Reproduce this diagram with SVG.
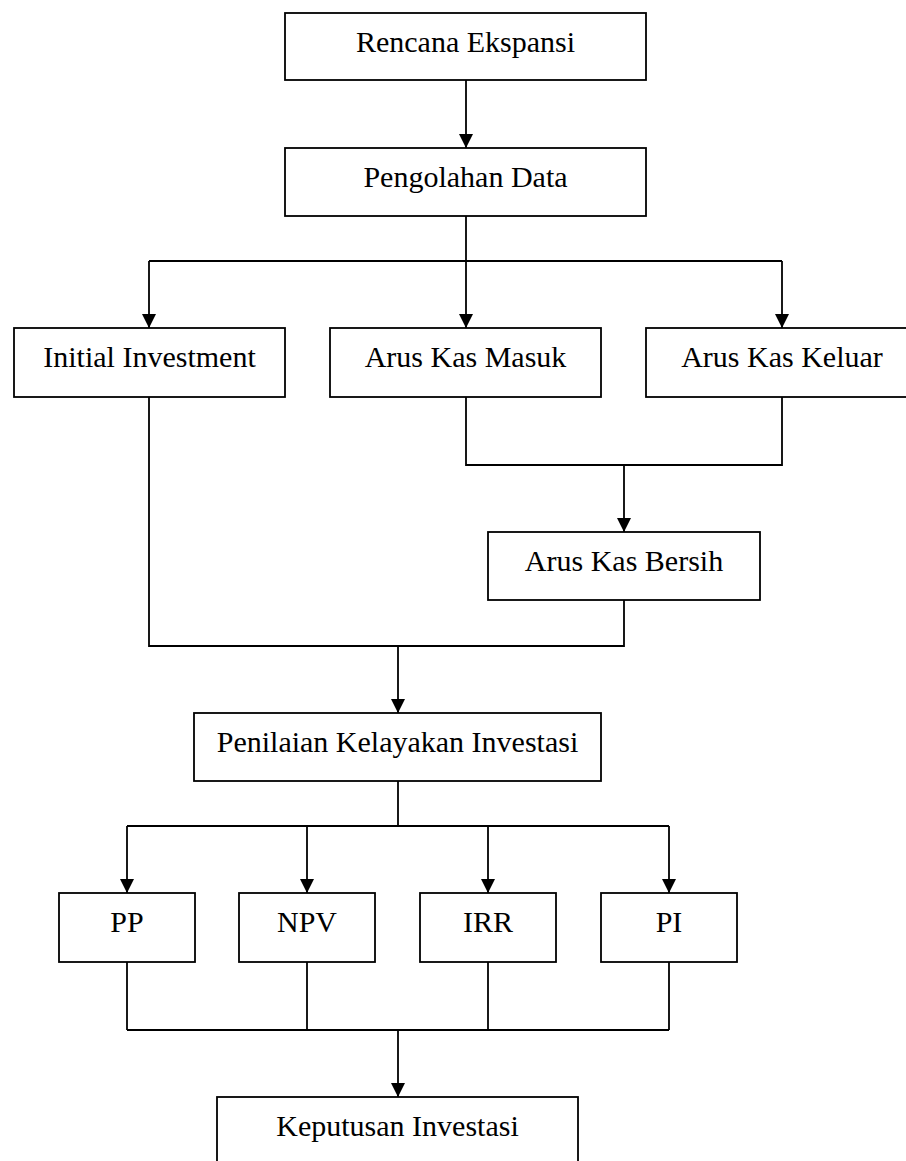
<svg xmlns="http://www.w3.org/2000/svg" width="906" height="1161" viewBox="0 0 906 1161">
<style>
.box{fill:#fff;stroke:#000;stroke-width:1.8}
.lbl{font-family:"Liberation Serif","Times New Roman",serif;font-size:30px;fill:#000;text-anchor:middle}
.con{fill:none;stroke:#000;stroke-width:1.8}
.arr{marker-end:url(#ah)}
</style>
<defs>
<marker id="ah" markerUnits="userSpaceOnUse" markerWidth="14" markerHeight="14" refX="14" refY="7" orient="auto">
<path d="M0,0 L14,7 L0,14 z" fill="#000"/>
</marker>
</defs>
<rect width="906" height="1161" fill="#fff"/>
<g id="connectors">
<line class="con arr" x1="466" y1="80" x2="466" y2="148"/>
<line class="con" x1="466" y1="216" x2="466" y2="261"/>
<line class="con" x1="149" y1="261" x2="782" y2="261"/>
<line class="con arr" x1="149" y1="261" x2="149" y2="328"/>
<line class="con arr" x1="466" y1="261" x2="466" y2="328"/>
<line class="con arr" x1="782" y1="261" x2="782" y2="328"/>
<polyline class="con" points="466,397 466,465 782,465 782,397"/>
<line class="con arr" x1="624" y1="465" x2="624" y2="532"/>
<polyline class="con" points="149,397 149,646 624,646 624,600"/>
<line class="con arr" x1="398" y1="646" x2="398" y2="713"/>
<line class="con" x1="398" y1="781" x2="398" y2="826"/>
<line class="con" x1="127" y1="826" x2="669" y2="826"/>
<line class="con arr" x1="127" y1="826" x2="127" y2="893"/>
<line class="con arr" x1="307" y1="826" x2="307" y2="893"/>
<line class="con arr" x1="488" y1="826" x2="488" y2="893"/>
<line class="con arr" x1="669" y1="826" x2="669" y2="893"/>
<line class="con" x1="127" y1="962" x2="127" y2="1030"/>
<line class="con" x1="307" y1="962" x2="307" y2="1030"/>
<line class="con" x1="488" y1="962" x2="488" y2="1030"/>
<line class="con" x1="669" y1="962" x2="669" y2="1030"/>
<line class="con" x1="127" y1="1030" x2="669" y2="1030"/>
<line class="con arr" x1="398" y1="1030" x2="398" y2="1097"/>
</g>
<g id="rencana"><rect class="box" x="285" y="13" width="361" height="67"/><text class="lbl" x="465.5" y="52">Rencana Ekspansi</text></g>
<g id="pengolahan"><rect class="box" x="285" y="148" width="361" height="68"/><text class="lbl" x="465.5" y="187">Pengolahan Data</text></g>
<g id="initial"><rect class="box" x="14" y="328" width="271" height="69"/><text class="lbl" x="149.5" y="367">Initial Investment</text></g>
<g id="masuk"><rect class="box" x="330" y="328" width="271" height="69"/><text class="lbl" x="465.5" y="367">Arus Kas Masuk</text></g>
<g id="keluar"><rect class="box" x="646" y="328" width="272" height="69"/><text class="lbl" x="782" y="367">Arus Kas Keluar</text></g>
<g id="bersih"><rect class="box" x="488" y="532" width="272" height="68"/><text class="lbl" x="624" y="571">Arus Kas Bersih</text></g>
<g id="penilaian"><rect class="box" x="194" y="713" width="407" height="68"/><text class="lbl" x="397.5" y="752">Penilaian Kelayakan Investasi</text></g>
<g id="pp"><rect class="box" x="59" y="893" width="136" height="69"/><text class="lbl" x="127" y="932">PP</text></g>
<g id="npv"><rect class="box" x="239" y="893" width="136" height="69"/><text class="lbl" x="307" y="932">NPV</text></g>
<g id="irr"><rect class="box" x="420" y="893" width="136" height="69"/><text class="lbl" x="488" y="932">IRR</text></g>
<g id="pi"><rect class="box" x="601" y="893" width="136" height="69"/><text class="lbl" x="669" y="932">PI</text></g>
<g id="keputusan"><rect class="box" x="217" y="1097" width="361" height="70"/><text class="lbl" x="397.5" y="1136">Keputusan Investasi</text></g>
</svg>
